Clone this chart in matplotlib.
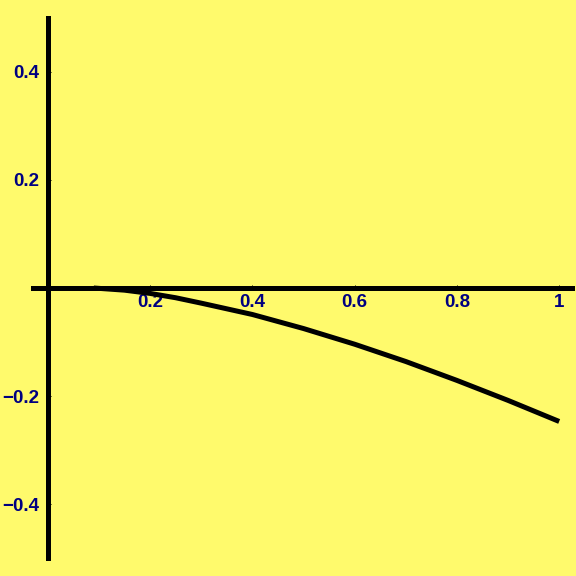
import matplotlib
matplotlib.use("Agg")
import matplotlib.pyplot as plt

# curve values
x_vals = [0.09, 0.15, 0.2, 0.25, 0.3, 0.4, 0.5, 0.6, 0.7, 0.8, 0.9, 1.0]
y_vals = [0.0, -0.004, -0.010, -0.018, -0.028, -0.049, -0.075, -0.104,
          -0.136, -0.171, -0.208, -0.247]

x_ticks = [0.2, 0.4, 0.6, 0.8, 1.0]
x_labels = ["0.2", "0.4", "0.6", "0.8", "1"]
y_ticks = [-0.4, -0.2, 0.2, 0.4]
y_labels = ["\u22120.4", "\u22120.2", "0.2", "0.4"]

bg = "#fffa6c"
lab = "#000080"

fig = plt.figure(figsize=(5.76, 5.76), dpi=100, facecolor=bg)
ax = fig.add_axes([0, 0, 1, 1], facecolor=bg)

ax.plot(x_vals, y_vals, color="black", lw=3.6, solid_capstyle="butt",
        solid_joinstyle="round")

ax.set_xlim(-0.0933, 1.0329)
ax.set_ylim(-0.533, 0.533)

for s in ["top", "right"]:
    ax.spines[s].set_visible(False)
ax.spines["left"].set_position(("data", 0))
ax.spines["bottom"].set_position(("data", 0))
ax.spines["left"].set_bounds(-0.5, 0.5)
ax.spines["bottom"].set_bounds(-0.029, 1.025)
for s in ["left", "bottom"]:
    ax.spines[s].set_linewidth(3.6)
    ax.spines[s].set_color("black")

ax.set_xticks(x_ticks)
ax.set_xticklabels(x_labels)
ax.set_yticks(y_ticks)
ax.set_yticklabels(y_labels)
ax.tick_params(axis="both", direction="in", length=2.5, width=0.7,
               colors="black", labelcolor=lab, labelsize=13.5)
ax.tick_params(axis="x", pad=4.5)
ax.tick_params(axis="y", pad=6)
for t in ax.get_xticklabels() + ax.get_yticklabels():
    t.set_fontweight("bold")
    t.set_family("Liberation Sans")
    t.set_fontsize(13.5)

fig.savefig("out.png", dpi=100, facecolor=bg)
